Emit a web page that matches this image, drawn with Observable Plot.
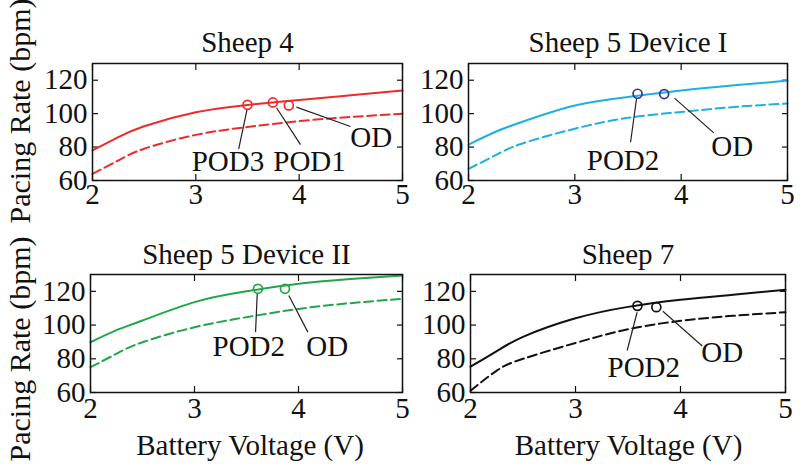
<!DOCTYPE html>
<html><head><meta charset="utf-8">
<script src="https://cdn.jsdelivr.net/npm/d3@7"></script>
<script src="https://cdn.jsdelivr.net/npm/@observablehq/plot@0.6"></script>
<style>
body{margin:0;background:#fff;}
#wrap{position:relative;width:800px;height:473px;overflow:hidden;background:#fff;}
#wrap svg{position:absolute;}
</style></head><body><div id="wrap"></div>
<script>
// ---- data ----
const voltage = [2, 2.25, 2.5, 3, 3.5, 4, 4.5, 5];
const xTicks = [2, 3, 4, 5];
const yTicks = [60, 80, 100, 120];
const titles = ["Sheep 4", "Sheep 5 Device I", "Sheep 5 Device II", "Sheep 7"];
const xLabel = "Battery Voltage (V)";
const yLabel = "Pacing Rate (bpm)";

const sheep4Solid  = [78, 86, 92.5, 100.8, 105.2, 108.2, 111, 113.8];
const sheep4Dashed = [64, 72, 79, 87.3, 92, 95.5, 98, 100];
const s5d1Solid    = [81.5, 89, 95, 104.9, 110, 113.9, 117, 119.7];
const s5d1Dashed   = [67, 75, 82, 91, 97.5, 101, 104, 106];
const s5d2Solid    = [89.8, 97, 102.7, 113.6, 120, 124.5, 127.4, 129.4];
const s5d2Dashed   = [75, 83, 89.8, 98.7, 104.7, 109.6, 113, 115.6];
const sheep7Solid  = [75.3, 84.5, 93, 104, 110.8, 115, 118, 121];
const sheep7Dashed = [61, 73, 80, 89.4, 97.5, 102.5, 105.5, 107.6];

// operating points: [voltage, rate]
const sheep4Points = [[3.50, 105.3], [3.745, 106.7], [3.90, 104.9]];
const s5d1Points   = [[3.59, 111.9], [3.84, 111.7]];
const s5d2Points   = [[3.61, 121.5], [3.87, 121.5]];
const sheep7Points = [[3.59, 111.4], [3.77, 110.6]];

// annotation labels: [text, voltage, rate]
const sheep4Labels = [["POD3", 3.311, 71.4], ["POD1", 4.10, 71.4], ["OD", 4.698, 85.4]];
const s5d1Labels   = [["POD2", 3.453, 72.0], ["OD", 4.48, 80.3]];
const s5d2Labels   = [["POD2", 3.522, 87.4], ["OD", 4.276, 87.4]];
const sheep7Labels = [["POD2", 3.65, 74.9], ["OD", 4.397, 83.4]];

// leader lines: [v1, r1, v2, r2]
const sheep4Leaders = [[3.497, 102.9, 3.415, 78.9], [3.781, 103.5, 4.013, 81.5], [3.974, 103.9, 4.497, 92.3]];
const s5d1Leaders   = [[3.580, 108.9, 3.524, 82.9], [3.937, 109.3, 4.307, 88.5]];
const s5d2Leaders   = [[3.603, 118.5, 3.587, 95.8], [3.907, 117.5, 4.09, 95.8]];
const sheep7Leaders = [[3.587, 107.6, 3.492, 84.9], [3.832, 108.2, 4.207, 87.6]];

const colors = ["#ee2b2b", "#1fb0dd", "#22a64a", "#111111"];
const markerColors = ["#ee2b2b", "#33339a", "#22a64a", "#111111"];

// ---- drawing ----
const FONT = "'Liberation Serif', 'Times New Roman', 'DejaVu Serif', serif";
const toRows = (vals) => voltage.map((v, i) => ({v, r: vals[i]}));

function panel(cfg) {
  const solid = toRows(cfg.solid), dashed = toRows(cfg.dashed);
  const marks = [
    Plot.axisX(xTicks, {anchor: "bottom", tickSize: 6, dy: -6, fill: "none", tickFormat: () => "", label: null, strokeWidth: 1.2}),
    Plot.axisX(xTicks, {anchor: "top", tickSize: 6, dy: 6, fill: "none", tickFormat: () => "", label: null, strokeWidth: 1.2}),
    Plot.axisY(yTicks, {anchor: "left", tickSize: 6, dx: 6, fill: "none", tickFormat: () => "", label: null, strokeWidth: 1.2}),
    Plot.axisY(yTicks, {anchor: "right", tickSize: 6, dx: -6, fill: "none", tickFormat: () => "", label: null, strokeWidth: 1.2}),
    Plot.axisX(xTicks, {anchor: "bottom", tickSize: 0, tickPadding: cfg.xPad, label: null}),
    Plot.axisY(yTicks, {anchor: "left", tickSize: 0, tickPadding: 5, label: null}),
    Plot.line(dashed, {x: "v", y: "r", stroke: cfg.color, strokeWidth: 2, strokeDasharray: "9,4.5", curve: "natural"}),
    Plot.line(solid, {x: "v", y: "r", stroke: cfg.color, strokeWidth: 2, curve: "natural"}),
    Plot.link(cfg.leaders, {x1: d => d[0], y1: d => d[1], x2: d => d[2], y2: d => d[3], stroke: "#222", strokeWidth: 1.2}),
    Plot.dot(cfg.points, {x: d => d[0], y: d => d[1], r: 4.5, stroke: cfg.markerColor, strokeWidth: 1.7, fill: "none"}),
    Plot.text(cfg.labels, {x: d => d[1], y: d => d[2], text: d => d[0], lineAnchor: "middle", fill: "#111"}),
    Plot.text([cfg.title], {frameAnchor: "top", text: d => d, lineAnchor: "bottom", dy: cfg.titleDy, fill: "#111"}),
    Plot.frame({stroke: "#111", strokeWidth: 1.5})
  ];
  if (cfg.ylab) marks.push(Plot.text([yLabel], {frameAnchor: "left", text: d => d, rotate: -90, textAnchor: "middle", lineAnchor: "bottom", dx: cfg.ylab[0], dy: cfg.ylab[1], fill: "#111", fontSize: 30}));
  if (cfg.xlab) marks.push(Plot.text([xLabel], {frameAnchor: "bottom", text: d => d, textAnchor: "middle", lineAnchor: "bottom", dx: cfg.xlab[0], dy: cfg.xlab[1], fill: "#111", fontSize: 29}));
  const svg = Plot.plot({
    width: cfg.width, height: cfg.height,
    marginLeft: cfg.mL, marginRight: cfg.mR, marginTop: cfg.mT, marginBottom: cfg.mB,
    x: {domain: [2, 5]},
    y: {domain: [60, 130]},
    style: {fontFamily: FONT, fontSize: "29px", background: "transparent", overflow: "visible", color: "#111"},
    marks
  });
  svg.style.left = cfg.left + "px";
  svg.style.top = cfg.top + "px";
  document.getElementById("wrap").appendChild(svg);
}

panel({left: 0, top: 0, width: 410, height: 230, mL: 92, mR: 8, mT: 63, mB: 50,
  title: titles[0], color: colors[0], markerColor: markerColors[0],
  solid: sheep4Solid, dashed: sheep4Dashed, points: sheep4Points, labels: sheep4Labels, leaders: sheep4Leaders,
  titleDy: -12, xPad: 3, ylab: [-63, -11]});
panel({left: 410, top: 0, width: 390, height: 230, mL: 58, mR: 13, mT: 63, mB: 50,
  title: titles[1], color: colors[1], markerColor: markerColors[1],
  solid: s5d1Solid, dashed: s5d1Dashed, points: s5d1Points, labels: s5d1Labels, leaders: s5d1Leaders,
  titleDy: -12, xPad: 3});
panel({left: 0, top: 230, width: 410, height: 243, mL: 90, mR: 8, mT: 44, mB: 81,
  title: titles[2], color: colors[2], markerColor: markerColors[2],
  solid: s5d2Solid, dashed: s5d2Dashed, points: s5d2Points, labels: s5d2Labels, leaders: s5d2Leaders,
  titleDy: -10.5, xPad: 5, ylab: [-61, 15.5], xlab: [3.5, 62]});
panel({left: 410, top: 230, width: 390, height: 243, mL: 60, mR: 15, mT: 44, mB: 81,
  title: titles[3], color: colors[3], markerColor: markerColors[3],
  solid: sheep7Solid, dashed: sheep7Dashed, points: sheep7Points, labels: sheep7Labels, leaders: sheep7Leaders,
  titleDy: -10.5, xPad: 5, xlab: [0.5, 62]});
</script></body></html>
